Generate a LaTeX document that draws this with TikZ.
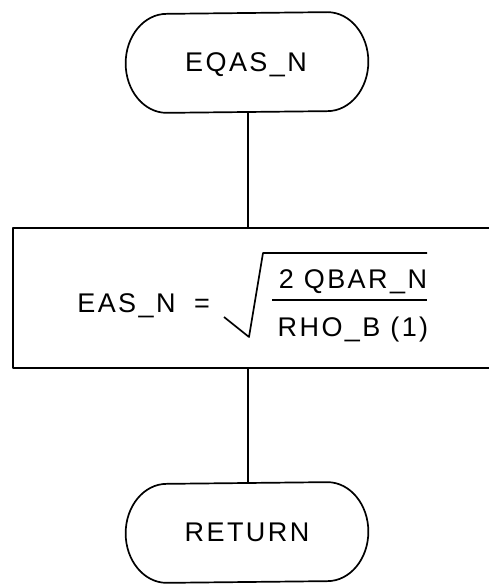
\documentclass[tikz,border=0pt]{standalone}
\usepackage{fontspec}
\setmainfont{Liberation Sans}[LetterSpace=9]
\begin{document}
\begin{tikzpicture}[x=1pt,y=1pt,
  line width=1.7pt, line join=round,
  lbl/.style={font=\fontsize{27}{31}\selectfont, inner sep=0pt},
  term/.style={draw=none, minimum width=241pt, minimum height=99pt, inner sep=0pt}]
\useasboundingbox (0,0) rectangle (489,584);
\clip (0,0) rectangle (489,584);
% top terminal
\node[term] (start) at (247,521.5) {};
\draw ([xshift=-41pt]start.north east)
  arc[start angle=90,end angle=-90,x radius=41pt,y radius=49.5pt]
  -- ([xshift=41pt]start.south west)
  arc[start angle=270,end angle=90,x radius=41pt,y radius=49.5pt] -- cycle;
\node[lbl, anchor=base] (starttxt) at (246,512) {EQAS\_N};
% process box
\node[draw, minimum width=490pt, minimum height=140pt, inner sep=0pt, anchor=south west] (box) at (12,215) {};
\node[lbl, anchor=base] (lhs) at (126.5,271) {EAS\_N};
\node[lbl, anchor=base] (eq) at (202,271) {=};
\node[lbl, anchor=base] (num) at (353,295) {2 QBAR\_N};
\node[lbl, anchor=base] (den) at (353,247) {RHO\_B (1)};
\coordinate (fa) at (272,284);
\coordinate (fb) at (427,284);
\draw (fa) -- (fb);
\coordinate (s1) at (224,267);
\coordinate (s2) at (249,247);
\coordinate (s3) at (263,331);
\coordinate (s4) at (427,331);
\draw (s1) -- (s2) -- (s3) -- (s4);
% bottom terminal
\node[term] (stop) at (247,51.5) {};
\draw ([xshift=-41pt]stop.north east)
  arc[start angle=90,end angle=-90,x radius=41pt,y radius=49.5pt]
  -- ([xshift=41pt]stop.south west)
  arc[start angle=270,end angle=90,x radius=41pt,y radius=49.5pt] -- cycle;
\node[lbl, anchor=base] (stoptxt) at (247,42) {RETURN};
% connectors
\draw ([xshift=1pt]start.south) -- ([xshift=1pt]box.north -| start.south);
\draw ([xshift=1pt]box.south -| stop.north) -- ([xshift=1pt]stop.north);
\end{tikzpicture}
\end{document}
